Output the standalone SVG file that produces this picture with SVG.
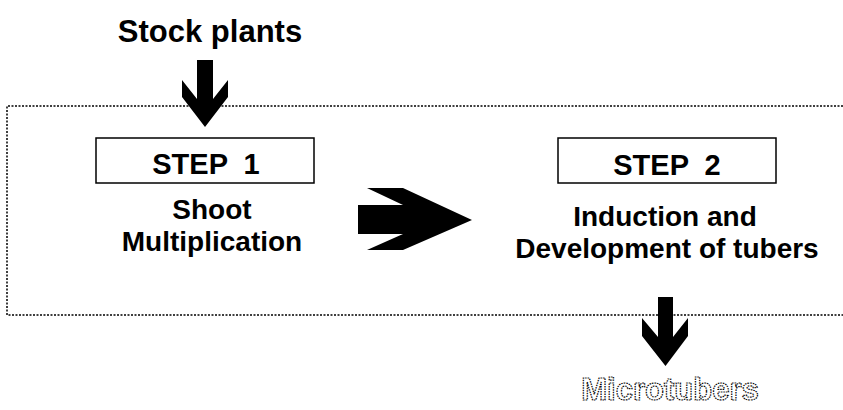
<svg xmlns="http://www.w3.org/2000/svg" width="843" height="410" viewBox="0 0 843 410">
<style>
.t{font-family:"Liberation Sans",Arial,sans-serif;font-weight:bold;fill:#000;text-anchor:middle}
.box{fill:none;stroke:#000;stroke-width:1.5}
.dot{fill:none;stroke:#000;stroke-width:1.5;stroke-dasharray:2 1.5}
.arr{fill:#000;stroke:none}
</style>
<rect width="843" height="410" fill="#fff"/>
<g id="frame">
<path class="dot" d="M843,106 H7 V315 H843"/>
</g>
<g id="stock"><text class="t" x="210" y="42" font-size="31">Stock plants</text></g>
<g id="step1">
<rect class="box" x="96" y="138" width="218" height="45"/>
<text class="t" x="206" y="174" font-size="29" xml:space="preserve">STEP  1</text>
<text class="t" x="212" y="219" font-size="28">Shoot</text>
<text class="t" x="212" y="251" font-size="28">Multiplication</text>
</g>
<g id="step2">
<rect class="box" x="558" y="138" width="218" height="45"/>
<text class="t" x="667" y="175" font-size="29" xml:space="preserve">STEP  2</text>
<text class="t" x="665" y="226" font-size="28">Induction and</text>
<text class="t" x="667" y="258" font-size="28">Development of tubers</text>
</g>
<g id="micro"><text x="670" y="400" font-size="31" font-family="Liberation Sans,Arial,sans-serif" font-weight="bold" text-anchor="middle" fill="#fff" stroke="#000" stroke-width="1.2" stroke-dasharray="1.5 1">Microtubers</text></g>
<g id="connectors">
<polygon class="arr" points="197,60 213,60 213,99 228,80 228,97 205,127 182,97 182,80 197,99"/>
<polygon class="arr" points="358,205 403,205 367,188 403,188 472,220 403,250 367,250 403,234 358,234"/>
<polygon class="arr" points="658,297 673,297 673,337 688,318 688,336 665.5,366 642,336 642,318 658,337"/>
</g>
</svg>
